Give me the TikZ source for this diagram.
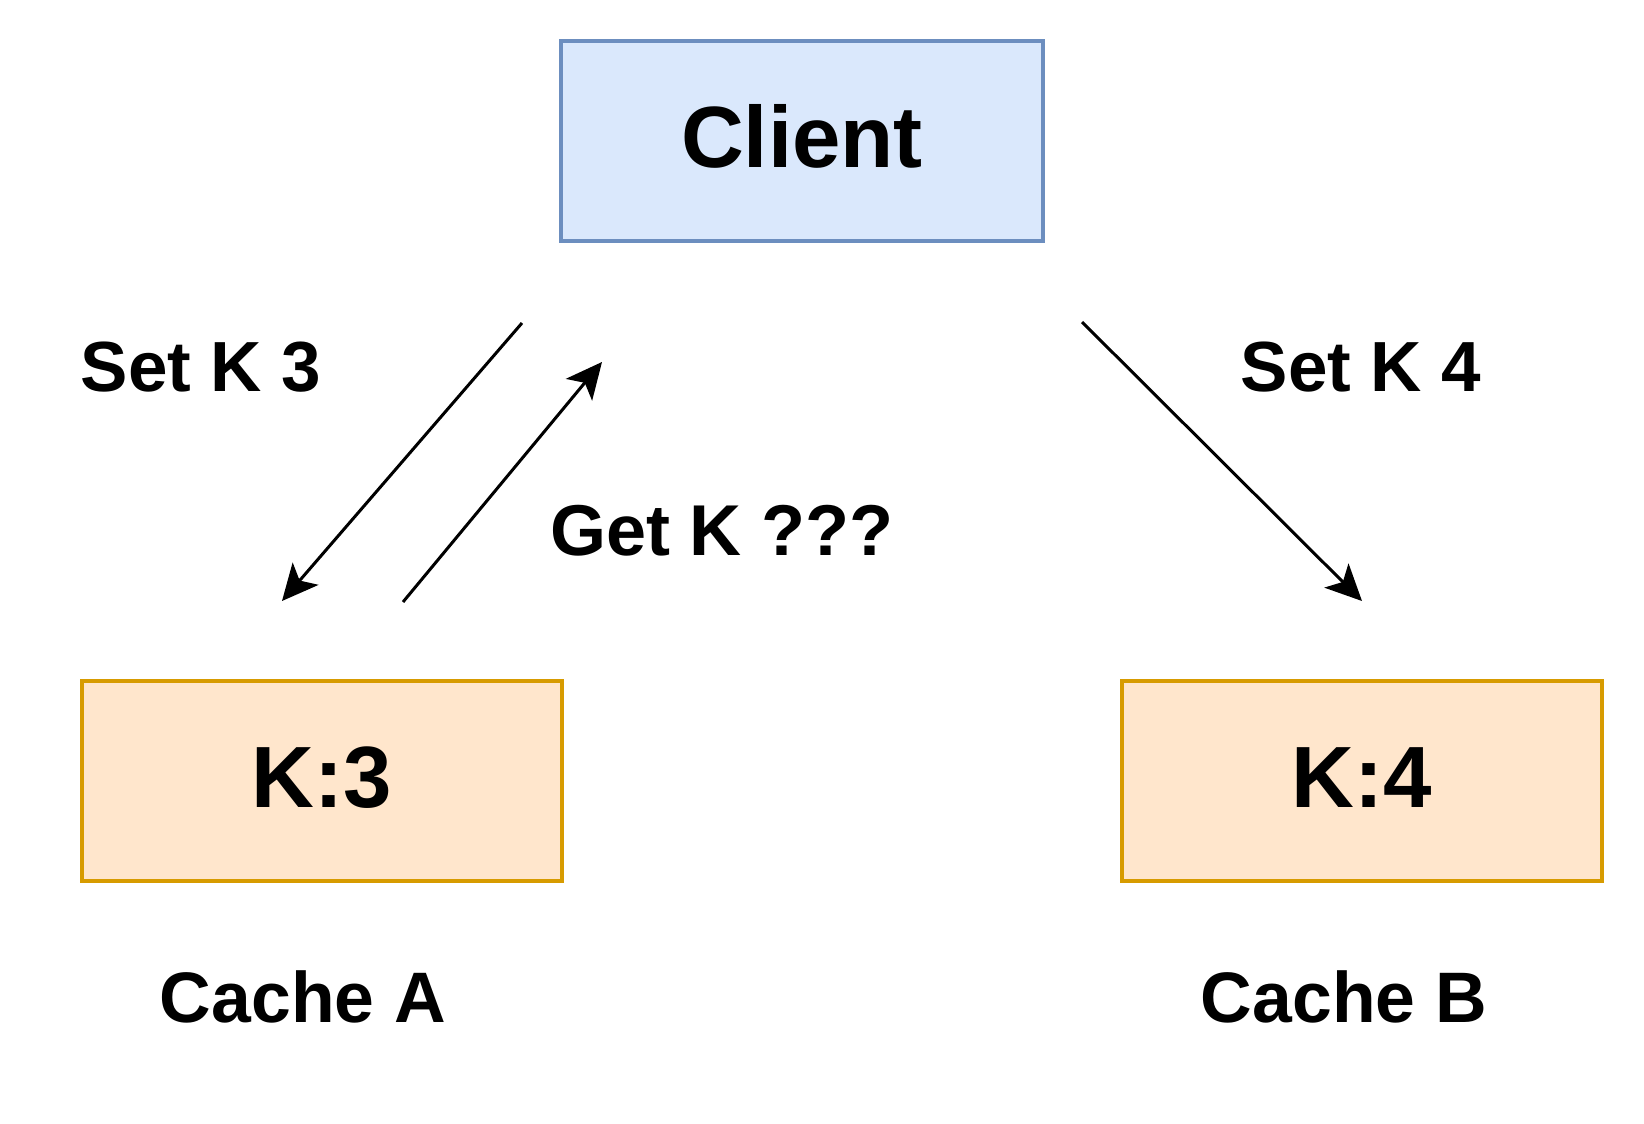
\documentclass[tikz,border=0pt]{standalone}
\usepackage{fontspec}
\setmainfont{Liberation Sans}
\usetikzlibrary{arrows.meta}
\definecolor{clientfill}{HTML}{DAE8FC}
\definecolor{clientdraw}{HTML}{6C8EBF}
\definecolor{cachefill}{HTML}{FFE6CC}
\definecolor{cachedraw}{HTML}{D79B00}
\tikzset{
  box/.style={rectangle, minimum width=480pt, minimum height=200pt, line width=3.5pt, inner sep=0pt,
    text height=52pt, text depth=0pt, font=\fontsize{87}{90}\selectfont\bfseries},
  clientbox/.style={box, fill=clientfill, draw=clientdraw, minimum width=482pt},
  cachebox/.style={box, fill=cachefill, draw=cachedraw},
  lbl/.style={inner sep=0pt, text height=51pt, text depth=0pt, font=\fontsize{71}{74}\selectfont\bfseries},
  cachelbl/.style={inner sep=0pt, text height=51pt, text depth=0pt, font=\fontsize{71.5}{74}\selectfont\bfseries},
  conn/.style={line width=3pt, -{Stealth[length=36pt, width=34pt, inset=9pt]}}
}
\begin{document}
\begin{tikzpicture}[x=1pt, y=-1pt]
\useasboundingbox[fill=white] (0,0) rectangle (1644,1124);
\node[clientbox] (client) at (802,141) {Client};
\node[cachebox] (cacheA) at (322,781) {K:3};
\node[cachebox] (cacheB) at (1362,781) {K:4};
\node[lbl] (setk3) at (201,366) {Set K 3};
\node[lbl] (setk4) at (1361,366) {Set K 4};
\node[lbl, font=\fontsize{72}{75}\selectfont\bfseries] (getk) at (722,530) {Get K ???};
\node[cachelbl] (nameA) at (303,997) {Cache A};
\node[cachelbl] (nameB) at (1344,997) {Cache B};
\coordinate (s1) at (522,323);
\coordinate (e1) at (282,601);
\coordinate (s2) at (403,602);
\coordinate (e2) at (602,362);
\coordinate (s3) at (1082,322);
\coordinate (e3) at (1362,601);
\draw[conn] (s1) -- (e1);
\draw[conn] (s2) -- (e2);
\draw[conn] (s3) -- (e3);
\end{tikzpicture}
\end{document}
